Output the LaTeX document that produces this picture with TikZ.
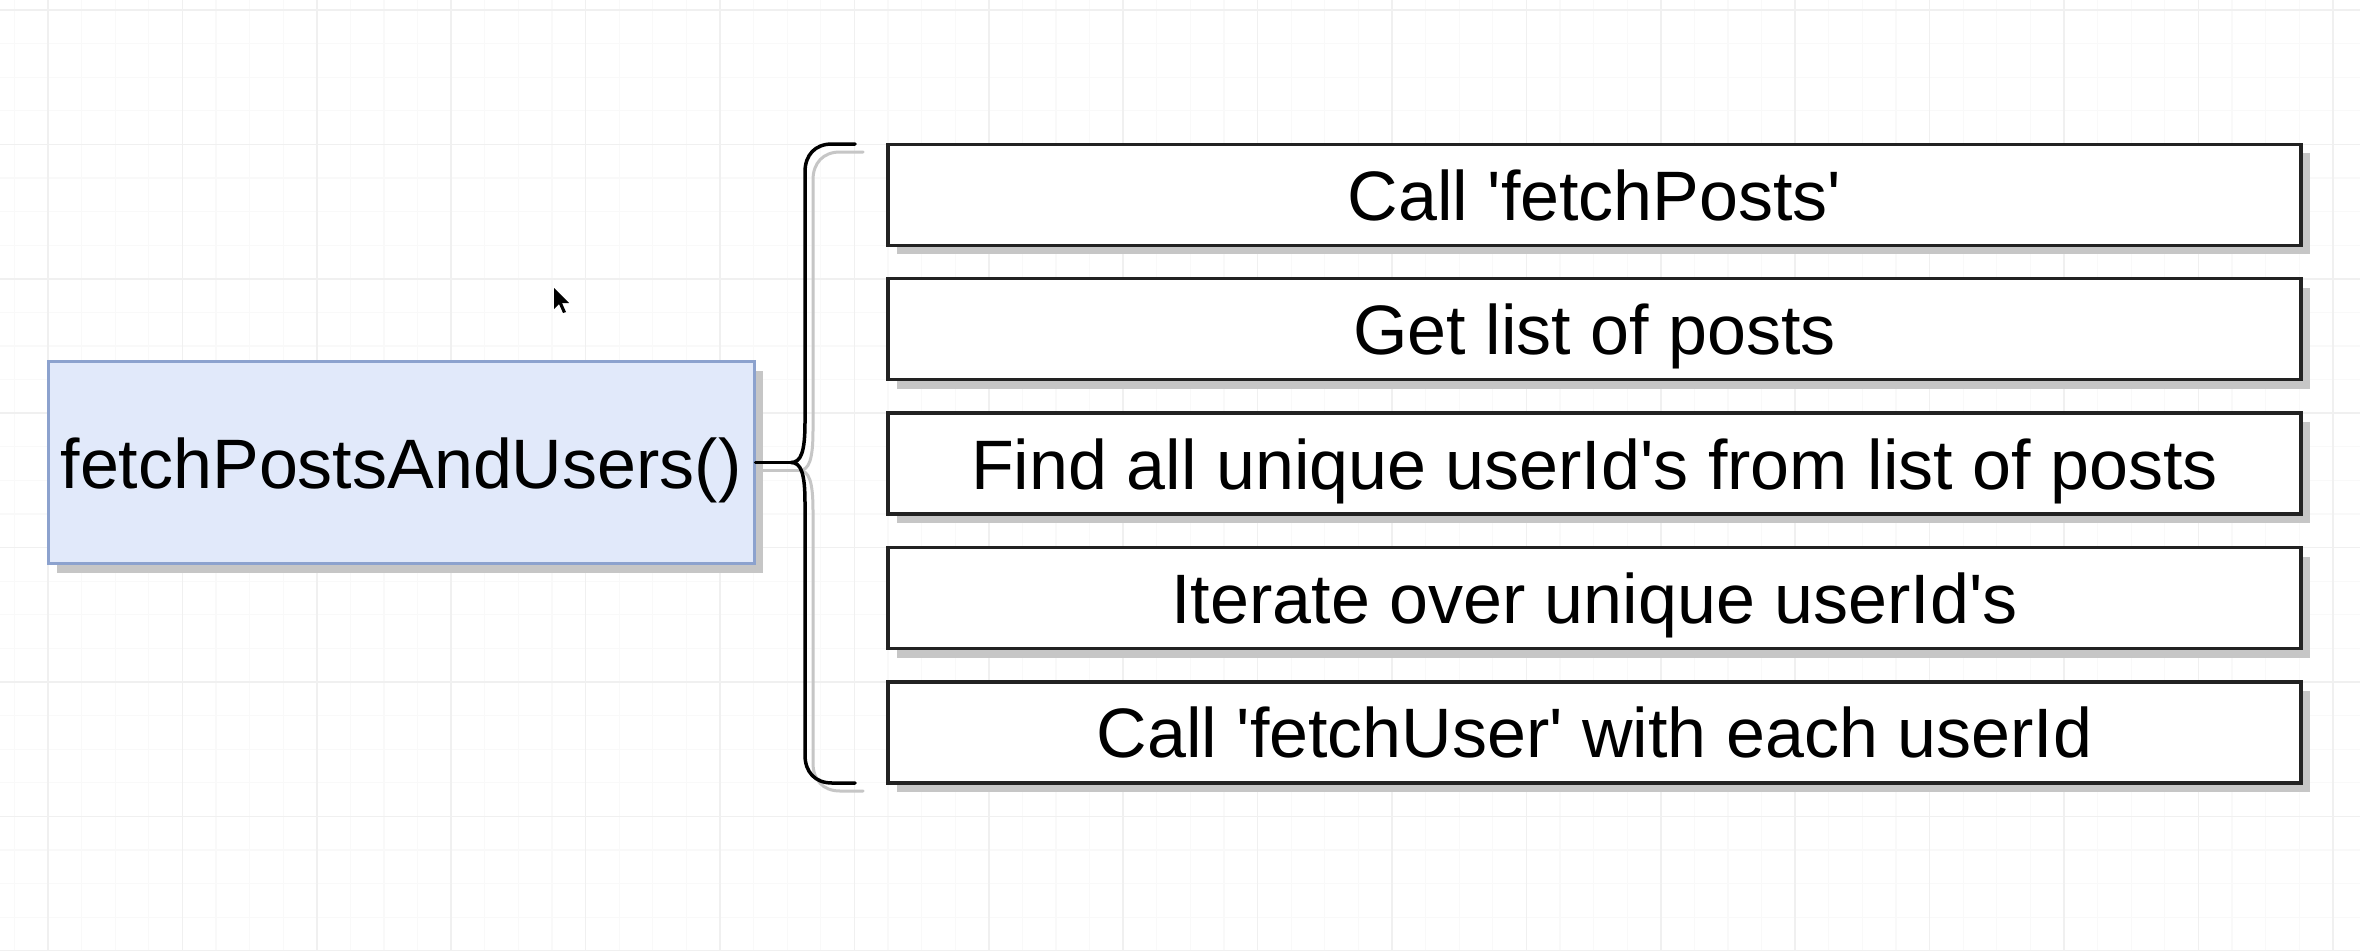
\documentclass[tikz,border=0pt]{standalone}
\usepackage{fontspec}
\newfontfamily\plainfont{Liberation Sans}
\usetikzlibrary{shadows}
\definecolor{gridminor}{HTML}{F9F9F9}
\definecolor{gridmajor}{HTML}{F0F0F0}
\definecolor{mainfill}{HTML}{E1E9FA}
\definecolor{mainline}{HTML}{8CA2CE}
\definecolor{shadowgray}{HTML}{C6C6C6}
\definecolor{boxline}{HTML}{222222}
\tikzset{
  gridmin/.style={gridminor, line width=1.2pt},
  gridmaj/.style={gridmajor, line width=1.5pt},
  myshadow/.style={drop shadow={shadow xshift=9pt, shadow yshift=-9pt, fill=shadowgray, opacity=1}},
  mainbox/.style={rectangle, draw=mainline, fill=mainfill, line width=3pt, myshadow,
    minimum width=706pt, minimum height=202pt, inner sep=0pt,
    font=\plainfont\fontsize{70}{84}\selectfont, text height=51pt, text depth=0pt},
  stepbox/.style={rectangle, draw=boxline, fill=white, line width=3.5pt, myshadow,
    minimum width=1413pt, minimum height=101pt, inner sep=0pt,
    font=\plainfont\fontsize{70}{84}\selectfont, text height=51pt, text depth=0pt},
  braceline/.style={black, line width=3.5pt, line cap=round, line join=round},
  braceshadow/.style={shadowgray, line width=3pt, line cap=round, line join=round},
}
\begin{document}
\begin{tikzpicture}[x=1pt, y=-1pt]
\useasboundingbox (0,0) rectangle (2360,950);
\fill[white] (0,0) rectangle (2360,950);
% grid
\foreach \i in {0,...,71} {
  \pgfmathsetmacro\xx{48+(\i-2)*33.6}
  \draw[gridmin] (\xx,0) -- (\xx,950);
}
\foreach \i in {0,...,29} {
  \pgfmathsetmacro\yy{10+(\i-1)*33.6}
  \draw[gridmin] (0,\yy) -- (2360,\yy);
}
\foreach \i in {0,...,18} {
  \pgfmathsetmacro\xx{48+(\i-1)*134.4}
  \draw[gridmaj] (\xx,0) -- (\xx,950);
}
\foreach \i in {0,...,7} {
  \pgfmathsetmacro\yy{10+\i*134.4}
  \draw[gridmaj] (0,\yy) -- (2360,\yy);
}
% main node
\node[mainbox] (main) at (401,462.5) {fetchPostsAndUsers()};
% steps
\node[stepbox] (s1) at (1594.5,194.8) {Call 'fetchPosts'};
\node[stepbox] (s2) at (1594.5,329.2) {Get list of posts};
\node[stepbox] (s3) at (1594.5,463.6) {Find all unique userId's from list of posts};
\node[stepbox] (s4) at (1594.5,598.0) {Iterate over unique userId's};
\node[stepbox] (s5) at (1594.5,732.4) {Call 'fetchUser' with each userId};
% brace
\coordinate (tip) at (791,462.5);
\coordinate (btop) at (855,144);
\coordinate (bbot) at (855,783);
\begin{scope}[shift={(8,8)}]
\draw[braceshadow] (755,462.5) -- (791,462.5);
\draw[braceshadow] (855,144) -- (832,144) .. controls (815,144) and (805,155) .. (805,172)
  -- (805,422) .. controls (805,452) and (801,462.5) .. (791,462.5)
  .. controls (801,462.5) and (805,473) .. (805,503)
  -- (805,755) .. controls (805,772) and (815,783) .. (832,783) -- (855,783);
\end{scope}
\draw[braceline] (main.east) -- (tip);
\draw[braceline] (btop) -- (832,144) .. controls (815,144) and (805,155) .. (805,172)
  -- (805,422) .. controls (805,452) and (801,462.5) .. (tip)
  .. controls (801,462.5) and (805,473) .. (805,503)
  -- (805,755) .. controls (805,772) and (815,783) .. (832,783) -- (bbot);
% cursor
\fill[black] (554,288) -- (554,309) -- (559,304) -- (563,313) -- (566,312) -- (562,303) -- (569,303) -- cycle;
\end{tikzpicture}
\end{document}
